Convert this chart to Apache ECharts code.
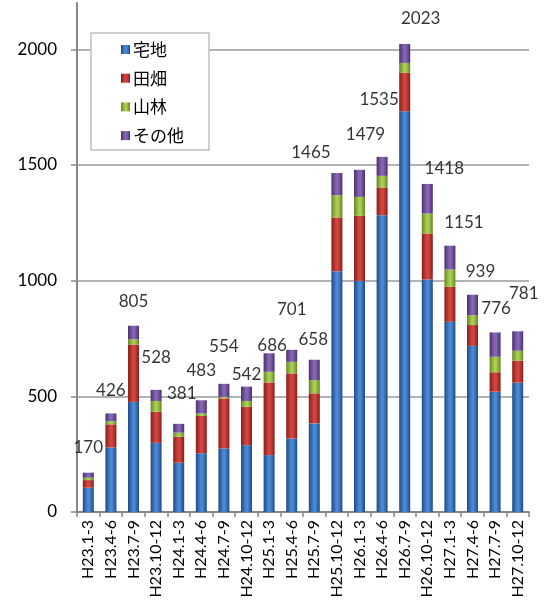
<!DOCTYPE html>
<html>
<head>
<meta charset="utf-8">
<script src="https://cdn.jsdelivr.net/npm/echarts@6/dist/echarts.min.js"></script>
<style>html,body{margin:0;padding:0;background:#fff;}#c{width:544px;height:604px;}</style>
</head>
<body>
<div id="c"></div>
<script>
var categories = ['H23.1-3','H23.4-6','H23.7-9','H23.10-12','H24.1-3','H24.4-6','H24.7-9','H24.10-12','H25.1-3','H25.4-6','H25.7-9','H25.10-12','H26.1-3','H26.4-6','H26.7-9','H26.10-12','H27.1-3','H27.4-6','H27.7-9','H27.10-12'];
var takuchi = [105,279,476,299,213,254,275,289,246,318,383,1041,999,1283,1732,1005,822,718,520,559];
var tahata  = [33,100,248,134,112,161,216,166,314,281,130,232,281,120,166,199,151,90,84,95];
var sanrin  = [10,13,22,47,18,11,7,25,46,50,57,96,82,50,43,86,75,43,67,43];
var sonota  = [22,34,59,48,38,57,56,62,80,52,88,96,117,82,82,128,103,88,105,84];
var totals  = [170,426,805,528,381,483,554,542,686,701,658,1465,1479,1535,2023,1418,1151,939,776,781];
var yTicks  = [0,500,1000,1500,2000];

// label placement (pixel offsets of each total label from its bar top)
var labelOffsets = [[0,-25],[0,-23],[0,-24],[0,-32],[3,-30],[0,-30],[0,-37],[0,-12],[3,-8],[0,-40],
                    [-1,-20],[-26,-21],[6,-35],[-3,-57],[16,-25],[17,-15],[14,-23],[8,-23],[1,-24],[6,-38]];

function grad(dark, light) {
  return {type:'linear', x:0, y:0, x2:1, y2:0, colorStops:[
    {offset:0, color:dark},{offset:0.45, color:light},{offset:0.6, color:light},{offset:1, color:dark}]};
}
var FONT = 'Lato';
function barSeries(name, data, dark, light) {
  return {name:name, type:'bar', stack:'s', data:data, barWidth:11,
    itemStyle:{color:grad(dark, light)}};
}
var chart = echarts.init(document.getElementById('c'), null, {renderer:'canvas'});
chart.setOption({
  animation:false,
  textStyle:{fontFamily:FONT},
  grid:{left:77, right:15, top:3, bottom:92},
  legend:{
    data:['宅地','田畑','山林','その他'],
    orient:'vertical', left:91, top:33,
    padding:[8,25,6,30],
    itemWidth:9, itemHeight:9, itemGap:11.7,
    icon:'rect',
    backgroundColor:'#fff', borderColor:'#c0c0c0', borderWidth:1.5,
    textStyle:{fontFamily:'Noto Sans CJK JP', fontSize:17, lineHeight:17, color:'#000', padding:[0,0,0,-2]}
  },
  xAxis:{
    type:'category', data:categories,
    axisLine:{lineStyle:{color:'#868686', width:2}},
    axisTick:{show:true, length:5, lineStyle:{color:'#868686', width:1.5}},
    axisLabel:{rotate:90, fontFamily:FONT, fontSize:16, color:'#000', margin:8, interval:0}
  },
  yAxis:{
    type:'value', min:0, max:2200, interval:500,
    axisLine:{show:true, lineStyle:{color:'#868686', width:2}},
    axisTick:{show:true, length:6, customValues:yTicks, lineStyle:{color:'#868686', width:1.5}},
    axisLabel:{fontFamily:FONT, fontSize:17, color:'#000', margin:20, customValues:yTicks,
      formatter:function(v){return String(v);}},
    splitLine:{show:true, lineStyle:{color:'#9a9a9a', width:1.5}}
  },
  series:[
    barSeries('宅地', takuchi, '#1f4a85', '#4a88d2'),
    barSeries('田畑', tahata, '#881d1b', '#d0453f'),
    barSeries('山林', sanrin, '#66871f', '#aacd55'),
    barSeries('その他', sonota, '#4a306d', '#8465b2'),
    {name:'total', type:'scatter', data:totals.map(function(v,i){
        return {value:v, label:{offset:labelOffsets[i]}};
      }),
      symbolSize:1, itemStyle:{color:'rgba(0,0,0,0)'}, z:10,
      label:{show:true, position:'inside', fontFamily:FONT, fontSize:17, color:'#000',
        formatter:function(p){return String(p.value);}}
    }
  ]
});
</script>
</body>
</html>
